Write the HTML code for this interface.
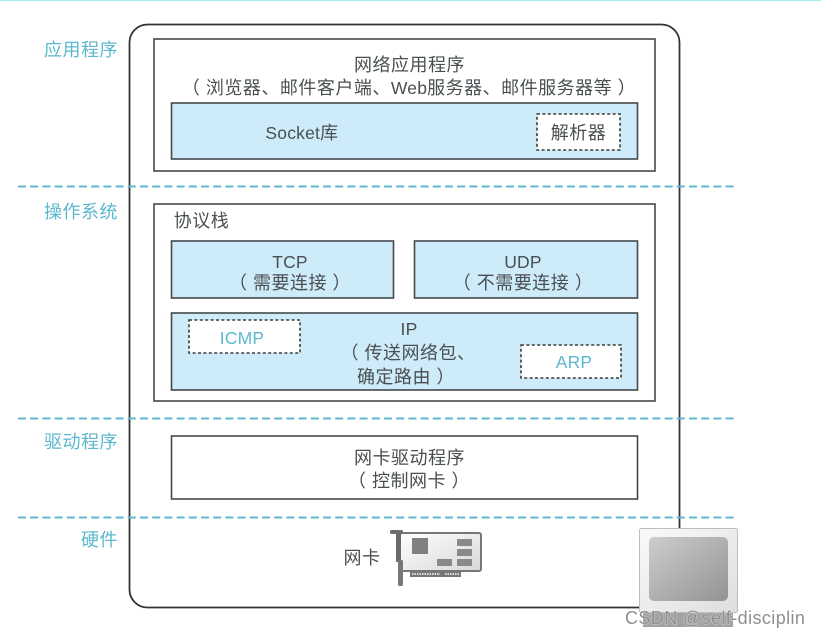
<!DOCTYPE html>
<html><head><meta charset="utf-8"><style>
html,body{margin:0;padding:0;background:#fff;width:821px;height:638px;overflow:hidden}
svg{display:block}
text{font-family:"Liberation Sans","Noto Sans CJK SC",sans-serif;font-size:18px;fill:#4a4f52;text-anchor:middle;letter-spacing:.5px}
.b{fill:#5cb8cf}
.l{font-size:17.5px;letter-spacing:.2px}
.w{font-size:18px;fill:#8f8f8f;text-anchor:start;letter-spacing:.4px;stroke:rgba(255,255,255,.35);stroke-width:1.5px;paint-order:stroke}
</style></head><body>
<svg width="821" height="638" viewBox="0 0 821 638" xmlns="http://www.w3.org/2000/svg">
<defs>
<linearGradient id="s" x1="0" y1="0" x2="1" y2="1"><stop offset="0" stop-color="#cdcdcd"/><stop offset="1" stop-color="#939393"/></linearGradient>
<linearGradient id="m" x1="0" y1="0" x2="1" y2="1"><stop offset="0" stop-color="#fafafa"/><stop offset="1" stop-color="#dedede"/></linearGradient>
<linearGradient id="c" x1="0" y1="0" x2="1" y2="1"><stop offset="0" stop-color="#fff"/><stop offset="1" stop-color="#d8d8d8"/></linearGradient>
</defs>
<rect x="0" y="0" width="821" height="1" fill="#a5e9f8"/>
<rect x="129.5" y="24.5" width="550" height="583" rx="18" fill="#fff" stroke="#333" stroke-width="1.8"/>

<g fill="none" stroke="#45494c" stroke-width="1.6">
<rect x="154" y="39" width="501" height="132" fill="#fff"/>
<rect x="154" y="204" width="501" height="197" fill="#fff"/>
<rect x="171.5" y="103" width="466" height="56" fill="#cdebf8"/>
<rect x="171.5" y="241" width="222" height="57" fill="#cdebf8"/>
<rect x="414.5" y="241" width="223" height="57" fill="#cdebf8"/>
<rect x="171.5" y="313" width="466" height="77" fill="#cdebf8"/>
<rect x="171.5" y="436" width="466" height="63" fill="#fff"/>
</g>
<g fill="#fff" stroke="#3c3c3c" stroke-width="1.6" stroke-dasharray="3 2.4">
<rect x="537" y="114" width="83" height="36"/>
<rect x="189" y="320" width="111" height="33"/>
<rect x="521" y="345" width="100" height="33"/>
</g>

<g stroke="#5cb8cf" stroke-width="2" stroke-dasharray="8 4.2" fill="none">
<path d="M18 186.5H735"/><path d="M18 418.5H735"/><path d="M18 517.5H735"/>
</g>

<text class="b" x="81" y="56">应用程序</text>
<text class="b" x="81" y="218">操作系统</text>
<text class="b" x="81" y="448">驱动程序</text>
<text class="b" x="99.5" y="546">硬件</text>

<text x="409.5" y="71">网络应用程序</text>
<text x="409" y="94">（ 浏览器、邮件客户端、<tspan class="l">Web</tspan>服务器、邮件服务器等 ）</text>
<text x="302" y="139"><tspan class="l">Socket</tspan>库</text>
<text x="578.5" y="139">解析器</text>
<text x="201.5" y="227">协议栈</text>
<text class="l" x="290" y="268">TCP</text>
<text x="290" y="289">（ 需要连接 ）</text>
<text class="l" x="523" y="268">UDP</text>
<text x="523" y="289">（ 不需要连接 ）</text>
<text class="b l" x="242" y="344">ICMP</text>
<text class="l" x="409" y="335">IP</text>
<text x="408" y="359">（ 传送网络包、</text>
<text x="406" y="383">确定路由 ）</text>
<text class="b l" x="574" y="368">ARP</text>
<text x="409.5" y="464">网卡驱动程序</text>
<text x="409" y="487">（ 控制网卡 ）</text>
<text x="362" y="564">网卡</text>

<!-- network card -->
<rect x="400" y="533" width="81" height="38" rx="2" fill="url(#c)" stroke="#777" stroke-width="2"/>
<rect x="390" y="530" width="13" height="4" rx="1.5" fill="#6e6e6e"/>
<rect x="396" y="533" width="5" height="29" fill="#6a6a6a"/>
<rect x="398" y="560" width="5" height="26" rx="1.5" fill="#777"/>
<rect x="412" y="538" width="16" height="16" fill="#808080"/>
<rect x="457" y="539" width="15" height="7" fill="#8a8a8a"/>
<rect x="457" y="549" width="15" height="7" fill="#8a8a8a"/>
<rect x="457" y="559" width="15" height="7" fill="#8a8a8a"/>
<rect x="437" y="559" width="15" height="7" fill="#8a8a8a"/>
<rect x="410" y="571" width="51" height="6" fill="#777"/>
<path d="M412 574H440M445 574H459" stroke="#ddd" stroke-width="2" stroke-dasharray="1.5 1" fill="none"/>

<!-- monitor -->
<rect x="643" y="611" width="90" height="16" fill="#a2a2a2"/>
<rect x="639.5" y="528.5" width="98" height="84" rx="2" fill="url(#m)" stroke="#bdbdbd" stroke-width="1"/>
<rect x="649" y="537" width="79" height="64" rx="5" fill="url(#s)"/>

<text class="w" x="625" y="624">CSDN @self-disciplin</text>
</svg>
</body></html>
